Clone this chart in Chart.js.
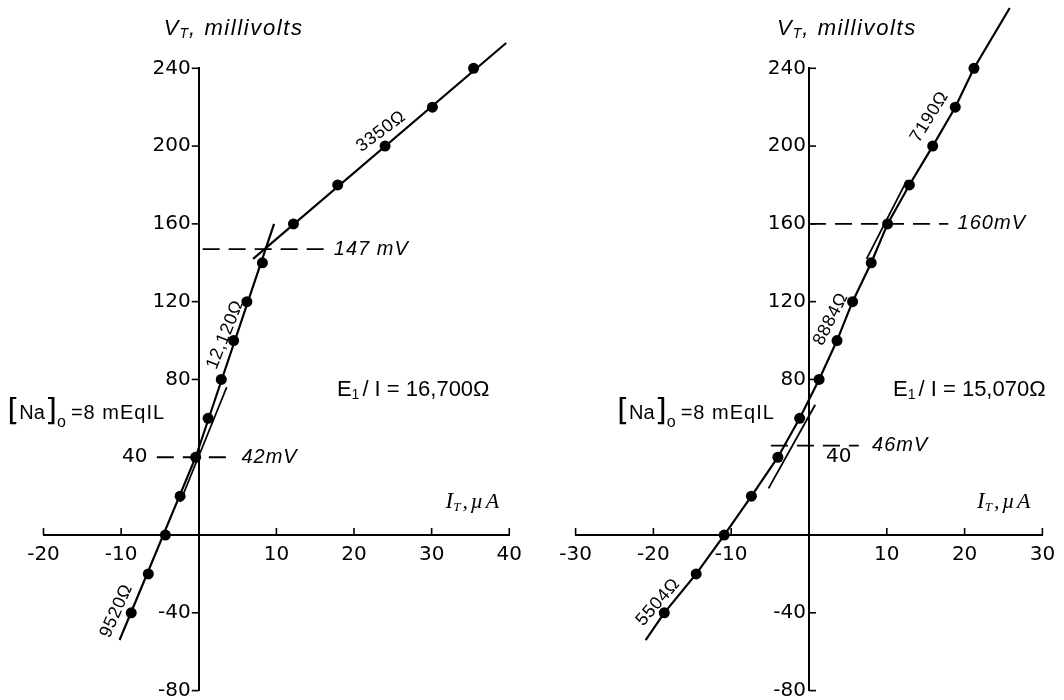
<!DOCTYPE html>
<html><head><meta charset="utf-8">
<script src="https://cdn.jsdelivr.net/npm/chart.js@4/dist/chart.umd.min.js"></script>
<style>
html,body{margin:0;padding:0;background:#fff;overflow:hidden;}
#wrap{position:relative;width:1064px;height:700px;overflow:hidden;}
#c1{position:absolute;left:0;top:0;}
#c2{position:absolute;left:530px;top:0;}
</style></head><body>
<div id="wrap"><canvas id="c1" width="530" height="720"></canvas><canvas id="c2" width="534" height="720"></canvas></div>
<script>
// ---------- DATA ----------
const voltages = [-40,-20,0,20,40,60,80,100,120,140,160,180,200,220,240];
const leftCurrent = [-8.7,-6.5,-4.3,-2.4,-0.4,1.2,2.9,4.5,6.2,8.2,12.2,17.9,24.0,30.1,35.4];
const rightCurrent = [-18.6,-14.5,-10.9,-7.4,-4.0,-1.2,1.3,3.6,5.6,8.0,10.1,12.9,15.9,18.8,21.2];

// fitted straight lines drawn on the left panel
const leftSteepI = [-10.2,-0.4,9.7];
const leftSteepV = [-54,40,160];
const leftShallowI = [7.0,39.6];
const leftShallowV = [142,253];
const leftChordI = [-2.4,3.6];
const leftChordV = [17,76];
const leftDash147I = [0.5,16.7];
const leftDash147V = [147,147];
const leftDash42I = [-5.4,4.3];
const leftDash42V = [40,40];

// right panel lines
const rightCurveStart = [-21.0,-54];
const rightCurveEnd = [25.8,271];
const rightChordLowI = [-5.2,0.8];
const rightChordLowV = [24,67];
const rightChordHighI = [7.4,12.6];
const rightChordHighV = [142,182.5];
const rightDash160I = [0,17.9];
const rightDash160V = [160,160];
const rightDash46I = [-4.9,6.4];
const rightDash46V = [46,46];

const yTickValues = [-80,-40,0,40,80,120,160,200,240];
const leftXTicks = [-20,-10,0,10,20,30,40];
const rightXTicks = [-30,-20,-10,0,10,20,30];

// ---------- helpers ----------
function pts(xs, ys){ return xs.map((x,i)=>({x:x,y:ys[i]})); }
const INK = '#000';
const TICKFONT = {family:'DejaVu Sans', size:20};

function richWidth(ctx, parts){
  let w=0;
  parts.forEach(p=>{ctx.font=p.f; ctx.letterSpacing=(p.ls||0)+'px'; w+=ctx.measureText(p.t).width + (p.gap||0);});
  return w;
}
function drawRich(ctx, x, y, parts, align, rot){
  ctx.save();
  ctx.translate(x,y);
  if(rot) ctx.rotate(rot*Math.PI/180);
  ctx.fillStyle=INK; ctx.textBaseline='middle'; ctx.textAlign='left';
  const w=richWidth(ctx,parts);
  let cx = align==='center' ? -w/2 : (align==='right' ? -w : 0);
  parts.forEach(p=>{
    ctx.font=p.f; ctx.letterSpacing=(p.ls||0)+'px';
    ctx.fillText(p.t, cx, p.dy||0);
    cx += ctx.measureText(p.t).width + (p.gap||0);
  });
  ctx.restore();
}

function makeAnnot(spec){
  return {
    id:'annot',
    beforeDraw(chart){ chart.ctx.letterSpacing='0px'; },
    afterDraw(chart){
      const ctx=chart.ctx, xs=chart.scales.x, ys=chart.scales.y;
      const X=v=>xs.getPixelForValue(v), Y=v=>ys.getPixelForValue(v);
      // tick marks
      ctx.save(); ctx.strokeStyle=INK; ctx.lineWidth=1.6;
      xs.ticks.forEach(t=>{ const v=t.value; if(v===0) return; const px=X(v); ctx.beginPath(); ctx.moveTo(px,Y(0)); ctx.lineTo(px,Y(0)-7); ctx.stroke(); });
      ys.ticks.forEach(t=>{ const v=t.value; if(v===0||v===40) return; const py=Y(v); ctx.beginPath(); ctx.moveTo(X(0),py); ctx.lineTo(X(0)+spec.yTickDir*7,py); ctx.stroke(); });
      ctx.restore();
      // y tick labels from the scale's ticks
      ctx.save(); ctx.fillStyle=INK; ctx.font='20px "DejaVu Sans"'; ctx.textAlign='right'; ctx.textBaseline='middle';
      ys.ticks.forEach(t=>{ const v=t.value; if(v===0||v===40) return; ctx.fillText(String(v), X(0)-spec.yLabelGap, Y(v)); });
      ctx.restore();
      spec.texts.forEach(t=>{
        const px = t.px!==undefined ? X(0)+t.px : X(t.x);
        const py = t.py!==undefined ? t.py : Y(t.y);
        drawRich(ctx, px, py, t.parts, t.align||'left', t.rot||0);
      });
    }
  };
}

const ITF = 'italic 22px "Liberation Sans"';
const SUBF = 'italic 14px "Liberation Sans"';
function title(){ return [
  {t:'V',f:ITF,ls:1},{t:'T',f:SUBF,dy:5,gap:1},{t:', millivolts',f:ITF,ls:1.6}
];}
function itLabel(){ return [
  {t:'I',f:'italic 23px "Liberation Serif"',ls:0},{t:'T',f:'italic 13px "Liberation Serif"',dy:6,gap:2},{t:',\u00b5A',f:'italic 22px "Liberation Serif"',ls:2.5}
];}
function naLabel(){ return [
  {t:'[',f:'31px "DejaVu Sans"'},{t:'Na',f:'20px "Liberation Sans"',dy:1},{t:']',f:'31px "DejaVu Sans"'},
  {t:'o',f:'16px "Liberation Sans"',dy:11,gap:5},{t:'=8 mEqIL',f:'20px "Liberation Sans"',ls:1,dy:1}
];}
function eLabel(val){ return [
  {t:'E',f:'22px "Liberation Sans"'},{t:'1',f:'14px "Liberation Sans"',dy:5,gap:3},{t:'/ I = '+val,f:'22px "Liberation Sans"',ls:0}
];}
function mv(t){ return [{t:t,f:'italic 20px "Liberation Sans"',ls:1}]; }
function ohm(t){ return [{t:t,f:'18px "Liberation Sans"',ls:0.6}]; }
function tickTxt(t){ return [{t:t,f:'20px "DejaVu Sans"'}]; }

function baseOptions(xmin,xmax,xTicks,pad){
  return {
    responsive:false, animation:false, events:[],
    layout:{padding:pad},
    plugins:{legend:{display:false},tooltip:{enabled:false}},
    scales:{
      x:{type:'linear',min:xmin,max:xmax,position:{y:0},
         afterBuildTicks:(s)=>{s.ticks=xTicks.map(v=>({value:v}));},
         ticks:{autoSkip:false,maxRotation:0,padding:8,color:INK,font:TICKFONT,
                callback:(v)=> v===0?'':String(v)},
         grid:{display:true,drawOnChartArea:false,drawTicks:false,color:INK},
         border:{display:true,color:INK,width:2}},
      y:{type:'linear',min:-80,max:240,position:{x:0},
         afterBuildTicks:(s)=>{s.ticks=yTickValues.map(v=>({value:v}));},
         ticks:{display:false,autoSkip:false},
         grid:{display:true,drawOnChartArea:false,drawTicks:false,color:INK},
         border:{display:true,color:INK,width:2}}
    }
  };
}
function lineDs(data,dash,w){
  return {type:'line',data:data,showLine:true,borderColor:INK,borderWidth:w||2.2,borderDash:dash||[],
          pointRadius:0,fill:false,tension:0,clip:false,order:2};
}
function pointDs(data){
  return {type:'scatter',data:data,showLine:false,pointRadius:5.5,pointBackgroundColor:INK,
          pointBorderColor:INK,pointBorderWidth:0,clip:false,order:1};
}

// ---------- LEFT CHART ----------
new Chart(document.getElementById('c1'),{
  type:'scatter',
  data:{datasets:[
    pointDs(pts(leftCurrent,voltages)),
    lineDs(pts(leftSteepI,leftSteepV)),
    lineDs(pts(leftShallowI,leftShallowV)),
    lineDs(pts(leftChordI,leftChordV),null,1.8),
    lineDs(pts(leftDash147I,leftDash147V),[17,9],1.8),
    lineDs(pts(leftDash42I,leftDash42V),[17,9],1.8)
  ]},
  options:baseOptions(-20,40,leftXTicks,{left:43.5,right:18.5,top:68.3,bottom:29.4}),
  plugins:[makeAnnot({yTickDir:-1,yLabelGap:8,texts:[
    {px:-35,py:29,parts:title()},
    {x:31.8,y:17,parts:itLabel()},
    {px:-191.5,py:412,parts:naLabel()},
    {x:17.8,y:74.5,parts:eLabel('16,700\u03a9')},
    {x:17.4,y:147,parts:mv('147 mV')},
    {x:5.5,y:40,parts:mv('42mV')},
    {x:-6.6,y:40,parts:tickTxt('40'),align:'right'},
    {x:23.5,y:207.5,parts:ohm('3350\u03a9'),align:'center',rot:-37},
    {x:3.4,y:103,parts:ohm('12,120\u03a9'),align:'center',rot:-68},
    {x:-10.6,y:-39,parts:ohm('9520\u03a9'),align:'center',rot:-66}
  ]})]
});

// ---------- RIGHT CHART ----------
const rightCurve = [{x:rightCurveStart[0],y:rightCurveStart[1]}].concat(pts(rightCurrent,voltages)).concat([{x:rightCurveEnd[0],y:rightCurveEnd[1]}]);
new Chart(document.getElementById('c2'),{
  type:'scatter',
  data:{datasets:[
    pointDs(pts(rightCurrent,voltages)),
    lineDs(rightCurve),
    lineDs(pts(rightChordLowI,rightChordLowV),null,1.8),
    lineDs(pts(rightChordHighI,rightChordHighV),null,1.8),
    lineDs(pts(rightDash160I,rightDash160V),[17,9],1.8),
    lineDs(pts(rightDash46I,rightDash46V),[17,9],1.8)
  ]},
  options:baseOptions(-30,30,rightXTicks,{left:45.6,right:21.6,top:68.3,bottom:29.4}),
  plugins:[makeAnnot({yTickDir:1,yLabelGap:3,texts:[
    {px:-32,py:29,parts:title()},
    {x:21.6,y:17,parts:itLabel()},
    {px:-192,py:412,parts:naLabel()},
    {x:10.8,y:74.5,parts:eLabel('15,070\u03a9')},
    {x:19.1,y:160,parts:mv('160mV')},
    {x:8.1,y:46,parts:mv('46mV')},
    {x:2.2,y:40,parts:tickTxt('40')},
    {x:15.5,y:215,parts:ohm('7190\u03a9'),align:'center',rot:-58},
    {x:2.8,y:111,parts:ohm('8884\u03a9'),align:'center',rot:-63},
    {x:-19.4,y:-34.5,parts:ohm('5504\u03a9'),align:'center',rot:-49}
  ]})]
});
</script>
</body></html>
